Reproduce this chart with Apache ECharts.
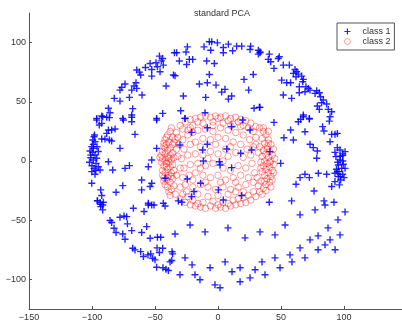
<!DOCTYPE html>
<html>
<head>
<meta charset="utf-8">
<script src="https://cdn.jsdelivr.net/npm/echarts@6/dist/echarts.min.js"></script>
<style>
  html, body { margin: 0; padding: 0; background: #fff; }
  #chart { width: 402px; height: 326px; }
</style>
</head>
<body>
<div id="chart"></div>
<script>
// tick labels
const xTicks = [-150, -100, -50, 0, 50, 100]
const yTicks = [-100, -50, 0, 50, 100]

// class 1: outer ring of blue pluses
const class1 = [
  [-46.5,88.6],[-43.9,86.6],[-49.2,83],[-45,84.6],[-53.9,82.4],[-48.1,79.6],[-43.4,81],[-57.6,79],[-52.6,77.3],[-46,75.4],
  [-64.5,76.8],[-62.4,75.1],[-61.4,72.6],[-52.6,71.7],[-41.2,63.3],[-65.1,66.1],[-66.6,63.3],[-64.5,61.3],[-73.8,65],[-76.4,62.2],
  [-68.5,59.9],[-77.8,59.9],[-60.3,55.7],[-70.3,53.7],[-82.3,52.9],[-77.8,50.6],[-87,44.5],[-85.7,40.8],[-67.7,44.2],[-43.9,40.2],
  [-92.3,38],[-96.3,36],[-88.3,36.9],[-75.6,36],[-68.5,36.9],[-48.7,36],[-35.4,72.6],[-34.6,91.4],
  [-32.8,91.4],[-24.3,96.4],[-25.4,92],[-30.7,84.4],[-24.9,81.5],[-22.8,85.8],[-20.1,85.8],[-11.1,96.4],[-6.9,100.7],[-5,100.7],
  [-0.5,99.8],[-5.8,93.6],[4.2,95.9],[8.2,98.7],[4.2,91.4],[11.6,93.1],[14.8,97],[18.8,97],[25.9,97],[25.4,94.2],
  [32,93.6],[33.3,91.4],[32,90.3],[-34.1,72],[-9,84.4],[-2.9,82.4],[-6.9,73.1],[-14.8,65],[-8.5,66.1],[-1.6,64.1],
  [5.5,60.5],[2.9,58.2],[10.8,54.9],[8.2,52.3],[20.6,68.9],[28,73.1],[24.3,59.9],[-27.5,54.9],[-9.8,53.7],[-29.6,42.5],
  [-26.2,36],[-10.3,40.8],[28.6,44.5],[32.8,45.3],
  [33.3,92.2],[40.7,90.3],[39.9,85.8],[41.8,83.8],[47.8,86.6],[48.6,88],[44.4,78.2],[51.8,81],[56.6,81],[61.1,77.3],
  [62.4,75.4],[59.8,74],[63.7,73.4],[61.9,71.1],[66.4,71.7],[67.7,68.9],[50.5,68.3],[54.5,66.1],[57.6,66.1],[67.2,66.9],
  [64.5,62.7],[69.8,62.7],[71.7,61.3],[73,59.9],[78.3,59.3],[80.4,57.7],[77,57.1],[81.4,54.3],[83.6,51.5],[82.2,49.2],
  [51.8,55.7],[58.4,52.9],[69,58.5],[64.5,57.7],[78.8,46.4],[80.4,43.6],[86.2,48.1],[87.5,43.6],[90.2,41.6],[88.9,37.4],
  [67.7,38.8],[72.5,36],[65.6,35.2],[33.3,45.3],
  [-96.3,34.6],[-91.5,37.4],[-92.3,31.8],[-94.2,30.4],[-86.2,36.6],[-75.1,34.6],[-68.5,33.2],[-68.5,38.8],[-48.7,34.6],[-87,26.2],
  [-84.4,26.2],[-81.7,27],[-88.3,23.3],[-86.2,17.7],[-84.4,16.9],[-89.7,18.6],[-92.3,18.6],[-98.4,20.5],[-99.4,17.7],[-97.6,16.3],
  [-100.2,12.1],[-98.9,10.7],[-101.6,8.4],[-99.4,7.3],[-97.6,5.1],[-101,2.8],[-98.9,0.9],[-96.3,2.3],[-96.8,-2],[-98.4,-6.2],
  [-100.2,-9],[-97.6,-11.2],[-95,-4.8],[-93.6,-7.6],[-87,-0.6],[-83.6,-7.6],[-77.8,10.7],[-65.9,22.5],[-73.8,-6.2],[-70.3,-3.9],
  [-55.3,-4.8],[-52.6,0.9],[-48.7,10.7],[-100.2,-18.8],[-93.1,-24.4],[-92.3,-29.2],[-95.7,-33.7],[-91,-34.8],[-93.1,-36.5],[-75.6,-20.8],
  [-80.9,-26.4],[-60.6,-16],[-60.6,-24.4],[-52.6,-18.8],[-53.9,-21.6],[-42,-14.6],[-55.3,-35.7],[-52.6,-37.1],[-43.4,-35.7],
  [-99,14],[-101,5],[-97,-8],[-95,8],[-100,-4],[-96,12],[-98,22],[-102,-1],
  [-26.2,36],[-8.5,28.1],[-20.9,24.2],[10.8,29],[19.6,34.6],[25.4,26.2],[-30.2,13.5],[-8.5,14.1],[-12.2,9.3],[6.9,10.1],
  [18,6.5],[26.7,9.3],[-11.6,0],[1.1,-0.6],[1.6,-3.4],[10.8,-5.6],[-24.4,-15.2],[-13.8,-18.8],[0.3,-24.4],[-19.1,-25.8],
  [18.8,-29.2],[-28.8,-34.8],[-31.5,-33.7],[4.2,-32.9],[-20.9,-30.1],
  [44.4,32.6],[67.7,37.4],[72.5,35.4],[63.7,33.2],[57.6,26.2],[69,24.7],[52.3,19.7],[59.8,17.7],[83,29],[84.1,25.3],
  [88.3,33.7],[90.2,22.5],[92.8,22.5],[94.7,23.3],[88.9,16.3],[73,14.1],[75.6,11.3],[78.8,8.4],[78.3,2.3],[94.7,11.3],
  [96.8,9.3],[92.8,7.3],[98.9,4.5],[96.8,0.9],[99.4,-2.8],[95.5,-3.4],[98.1,-6.2],[92.8,-10.4],[98.9,-11.2],[95.5,-13.2],
  [97.3,-16],[92.8,-17.4],[90.2,-21.6],[96.3,-20.2],[49.7,-2],[41.2,7.9],[79.6,-10.4],[86.2,-11.2],[69,-11.2],[72.5,-14],
  [65.1,-14],[61.9,-19.7],[76.2,-25.3],[84.1,-33.7],[92,-34.8],[40.7,-34.8],[58.4,-33.7],[100.8,7.9],[100.8,-6.2],[94.7,-9],
  [93.6,3.7],[97,4],[95,-1],[99,0],[94,-7],[97,-13],[99,6],[96,-9],[100,-14],
  [-95.7,-33.5],[-93.6,-35.1],[-91.5,-37.1],[-93.1,-38.5],[-91.5,-41.3],[-67.2,-39.9],[-58.7,-42.7],[-55.3,-37.1],[-50.8,-37.1],[-42,-38],
  [-85.7,-50.3],[-84.4,-52],[-77.8,-47.5],[-74.6,-46.4],[-72.5,-47],[-71.9,-53.1],[-82.5,-56.8],[-80.9,-60.4],[-68.5,-58.8],[-75.6,-61.6],
  [-73.8,-66.1],[-60.6,-60.4],[-56.6,-55.4],[-53.9,-65.2],[-48.1,-64.4],[-45.5,-64.4],[-67.7,-73.7],[-65.9,-75.1],[-61.4,-76.5],[-59.2,-80.7],
  [-53.4,-78.4],[-51.8,-82.1],[-50,-83.5],[-46.5,-77.3],[-43.9,-73.7],[-36,-78.4],[-36.7,-84.1],[-48.7,-89.7],[-41.3,-91.4],[-39.4,-92.5],
  [-34.1,-61.6],
  [-55.6,-79.3],[-48.4,-73.4],[-36.5,-76.7],[-26.2,-81.8],[-20.6,-87.7],[-6.3,-90.2],[5.6,-85.2],[11.1,-93.6],[17.5,-90.2],[29.4,-91.9],
  [34.9,-85.2],[45.2,-81.8],[57.1,-79.3],[65.1,-73.4],[73,-66.6],[79.4,-63.2],[87.3,-56.5],[95.2,-49.7],[100.8,-43],[-22.2,-54],
  [-10.3,-59.9],[7.9,-56.5],[21.4,-64.9],[33.3,-59.9],[45.2,-62.4],[53.2,-54],[65.1,-45.5],[77,-41.3],[84.9,-37.1],[-2.4,-104.6],
  [1.6,-107.1],[17.5,-102],[-14.3,-100.3],[-30.2,-96.1],[25.4,-98.7],[-38.1,-85.2],[-43.7,-90.2],[-18.3,-96.1],[37.3,-96.1],[49.2,-90.2],
  [58.7,-85.2],[69,-81.8],[79.4,-75],[88.9,-66.6],[96.8,-62.4],[92.9,-75],[84.9,-70.8]
]

// class 2: inner disc of red circles, dense on left and right rims
const class2 = [
  [-42,18],[-40,22],[-38,25],[-43,12],[-41,14],[-39,16],[-44,8],[-42,6],[-40,9],[-38,11],
  [-36,14],[-44,2],[-42,0],[-40,3],[-38,5],[-36,7],[-43,-4],[-41,-2],[-39,-1],[-37,1],
  [-35,3],[-44,-8],[-42,-10],[-40,-7],[-38,-5],[-36,-3],[-43,-14],[-41,-16],[-39,-12],[-37,-10],
  [-35,-8],[-42,-20],[-40,-22],[-38,-18],[-36,-15],[-39,-26],[-37,-24],[-35,-21],[-34,-28],[-36,20],
  [-34,18],[-37,28],[-33,24],[-45,-1],[-45,5],[-44,-12],[-41,20],[-43,-17],[-38,-29],[-33,-12],
  [-32,4],[-33,10],[-40,-14],[-42,11],[-46,3],[-39,2],[-37,-13],[-41,-5],[-35,16],[-43,15],
  [38,22],[40,18],[42,14],[36,25],[39,12],[41,8],[43,5],[37,15],[35,19],[40,3],
  [42,0],[44,-3],[38,6],[36,9],[39,-2],[41,-5],[43,-8],[37,0],[35,4],[40,-10],
  [42,-13],[38,-7],[36,-4],[39,-15],[41,-18],[37,-12],[35,-9],[38,-20],[36,-23],[34,-17],
  [33,-26],[35,-28],[32,-21],[33,12],[34,-1],[32,7],[44,10],[43,-16],[40,25],[33,28],
  [31,-14],[45,2],[42,-22],[38,-25],[36,28],[30,20],[41,-1],[39,10],[37,-17],[34,-6],
  [44,-10],[40,15],
  [-30,30],[-26,33],[-22,35],[-18,36],[-14,37],[-10,38],[-6,37],[-2,38],[2,37],[6,38],
  [10,36],[14,37],[18,35],[22,34],[26,32],[30,29],[-28,27],[-20,30],[-12,32],[-4,33],
  [4,32],[12,31],[20,30],[28,25],[-24,26],[0,36],[8,34],[16,33],[-16,33],[24,28],
  [-30,-32],[-26,-35],[-22,-37],[-18,-38],[-14,-39],[-10,-40],[-6,-38],[-2,-40],[2,-39],[6,-40],
  [10,-38],[14,-37],[18,-36],[22,-35],[26,-33],[30,-30],[-28,-28],[-20,-33],[-12,-35],[-4,-34],
  [4,-35],[12,-33],[20,-31],[28,-26],[-24,-30],[0,-37],[8,-36],[16,-32],[-16,-36],[24,-29],
  [-28,18],[-24,22],[-20,24],[-16,26],[-10,27],[-4,25],[2,28],[8,26],[14,24],[20,22],
  [25,18],[-27,10],[-22,14],[-18,16],[-12,19],[-6,18],[0,20],[6,19],[12,16],[18,14],
  [23,10],[28,12],[-29,2],[-24,5],[-18,6],[-12,5],[-6,8],[0,6],[8,4],[14,7],
  [20,3],[26,5],[-27,-6],[-22,-3],[-16,-2],[-10,-4],[-4,-2],[4,-6],[10,-8],[16,-4],
  [22,-6],[27,-2],[-28,-14],[-23,-12],[-18,-10],[-12,-12],[-6,-14],[0,-12],[6,-16],[12,-14],
  [18,-12],[24,-14],[-26,-20],[-20,-22],[-14,-20],[-8,-22],[-2,-24],[4,-22],[10,-24],[16,-22],
  [22,-20],[-16,-28],[-8,-30],[0,-29],[8,-28],[14,-26],[-30,-22],[-31,14],[29,-10],[-25,-26],
  [20,-26],[-2,14],[-14,12],[10,12],[-20,-16],[14,-18],[-8,2],[4,0],[-14,-6],[-30,-6],
  [28,-18],[6,10],[-10,-18],[2,-18],[-22,28],[18,29],[-4,30],[10,30],[-32,20],[30,14]
]

const plusPath = 'path://M4,0h2v4h4v2h-4v4h-2v-4h-4v-2h4z'
const font = 'Liberation Sans, Arial, Helvetica, sans-serif'
const minus = v => String(v).replace('-', '\u2212')

const myChart = echarts.init(document.getElementById('chart'))
myChart.setOption({
  animation: false,
  backgroundColor: '#fff',
  title: {
    text: 'standard PCA',
    left: 189,
    top: 4,
    textStyle: { fontFamily: font, fontSize: 9, fontWeight: 'normal', color: '#333' }
  },
  legend: {
    orient: 'vertical',
    left: 337,
    top: 23,
    padding: [4, 4, 4, 7],
    itemGap: 1,
    itemWidth: 20,
    itemHeight: 6,
    borderColor: '#555',
    borderWidth: 1,
    backgroundColor: '#fff',
    textStyle: { fontFamily: font, fontSize: 9, color: '#333' },
    data: [
      { name: 'class 1' },
      { name: 'class 2', icon: 'circle', itemStyle: { color: 'rgba(0,0,0,0)', borderColor: 'rgba(255,0,0,0.6)', borderWidth: 0.8 } }
    ]
  },
  // the axis is cut off by the picture's right edge, a bit short of 150
  grid: { left: 29, top: 13, bottom: 17, right: 0 },
  xAxis: {
    type: 'value',
    min: -150,
    max: 146,
    interval: 50,
    splitLine: { show: false },
    axisLine: { onZero: false, lineStyle: { color: '#555', width: 1 } },
    axisTick: { inside: true, length: 3, lineStyle: { color: '#555' } },
    axisLabel: {
      margin: 4,
      fontFamily: font,
      fontSize: 9,
      color: '#333',
      customValues: xTicks,
      formatter: minus
    }
  },
  yAxis: {
    type: 'value',
    min: -125,
    max: 125,
    splitLine: { show: false },
    axisLine: { onZero: false, lineStyle: { color: '#555', width: 1 } },
    axisTick: { inside: true, length: 3, customValues: yTicks, lineStyle: { color: '#555' } },
    axisLabel: {
      margin: 3,
      fontFamily: font,
      fontSize: 9,
      color: '#333',
      customValues: yTicks,
      formatter: minus
    }
  },
  series: [
    {
      name: 'class 1',
      type: 'scatter',
      data: class1,
      symbol: plusPath,
      symbolSize: 7,
      z: 3,
      itemStyle: { color: '#0000ff', opacity: 0.85 }
    },
    {
      name: 'class 2',
      type: 'scatter',
      data: class2,
      symbol: 'circle',
      symbolSize: 6.5,
      z: 2,
      itemStyle: { color: 'rgba(0,0,0,0)', borderColor: 'rgba(255,0,0,0.6)', borderWidth: 0.8 }
    }
  ]
})
</script>
</body>
</html>
